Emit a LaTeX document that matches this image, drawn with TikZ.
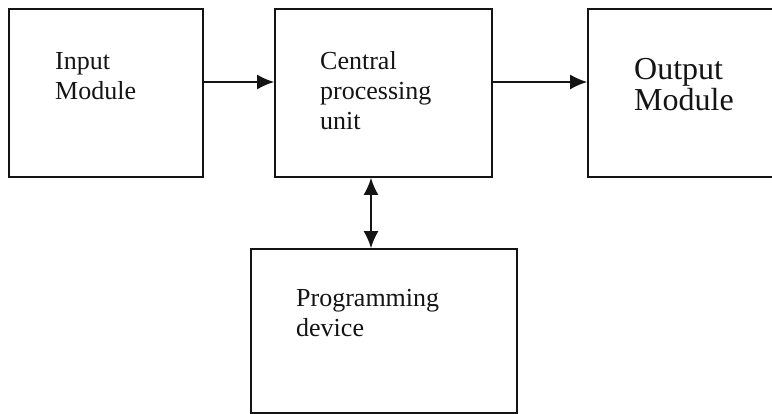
\documentclass[tikz,border=0pt]{standalone}
\usepackage{fontspec}
\setmainfont{Liberation Serif}
\usepackage{xcolor}
\definecolor{Col1}{RGB}{20,20,20}
\usepackage{tikz}
\usetikzlibrary{arrows.meta}
\tikzstyle{Block}=[rectangle,draw=Col1,line width=1.8pt,inner sep=0pt]
\tikzstyle{Label}=[anchor=base west,align=left,inner sep=0pt,text=Col1,
font=\fontsize{26}{30}\selectfont]
\tikzstyle{LabelBig}=[Label,font=\fontsize{32}{31}\selectfont]
\tikzstyle{Edge}=[draw=Col1,line width=1.5pt,-{Latex[length=17pt,width=15pt]}]
\tikzstyle{EdgeBoth}=[Edge,{Latex[length=17pt,width=15pt]}-{Latex[length=17pt,width=15pt]}]

\begin{document}
\begin{tikzpicture}[x=1pt,y=-1pt]
        \useasboundingbox(0,0)rectangle(772,414);
        \clip(0,0)rectangle(772,414);
        \node[Block,minimum width=194pt,minimum height=168pt](inp)at(106,93){};
        \node[Block,minimum width=217pt,minimum height=168pt](cpu)at(383.5,93){};
        \node[Block,minimum width=200pt,minimum height=168pt](out)at(688,93){};
        \node[Block,minimum width=266pt,minimum height=164pt](prog)at(384,331){};
        % anchor base is the last line
        \node[Label](inpT)at(55,99.5){Input\\Module};
        \node[Label](cpuT)at(320,129.5){Central\\processing\\unit};
        \node[LabelBig](outT)at(634,111){Output\\Module};
        \node[Label](progT)at(296,337){Programming\\device};
        \draw[Edge]([yshift=11pt]inp.east)--([yshift=11pt]cpu.west);
        \draw[Edge]([yshift=11pt]cpu.east)--([yshift=11pt]out.west);
        \draw[EdgeBoth]([xshift=-12.5pt]cpu.south)--([xshift=-13pt]prog.north);
    \end{tikzpicture}
\end{document}
